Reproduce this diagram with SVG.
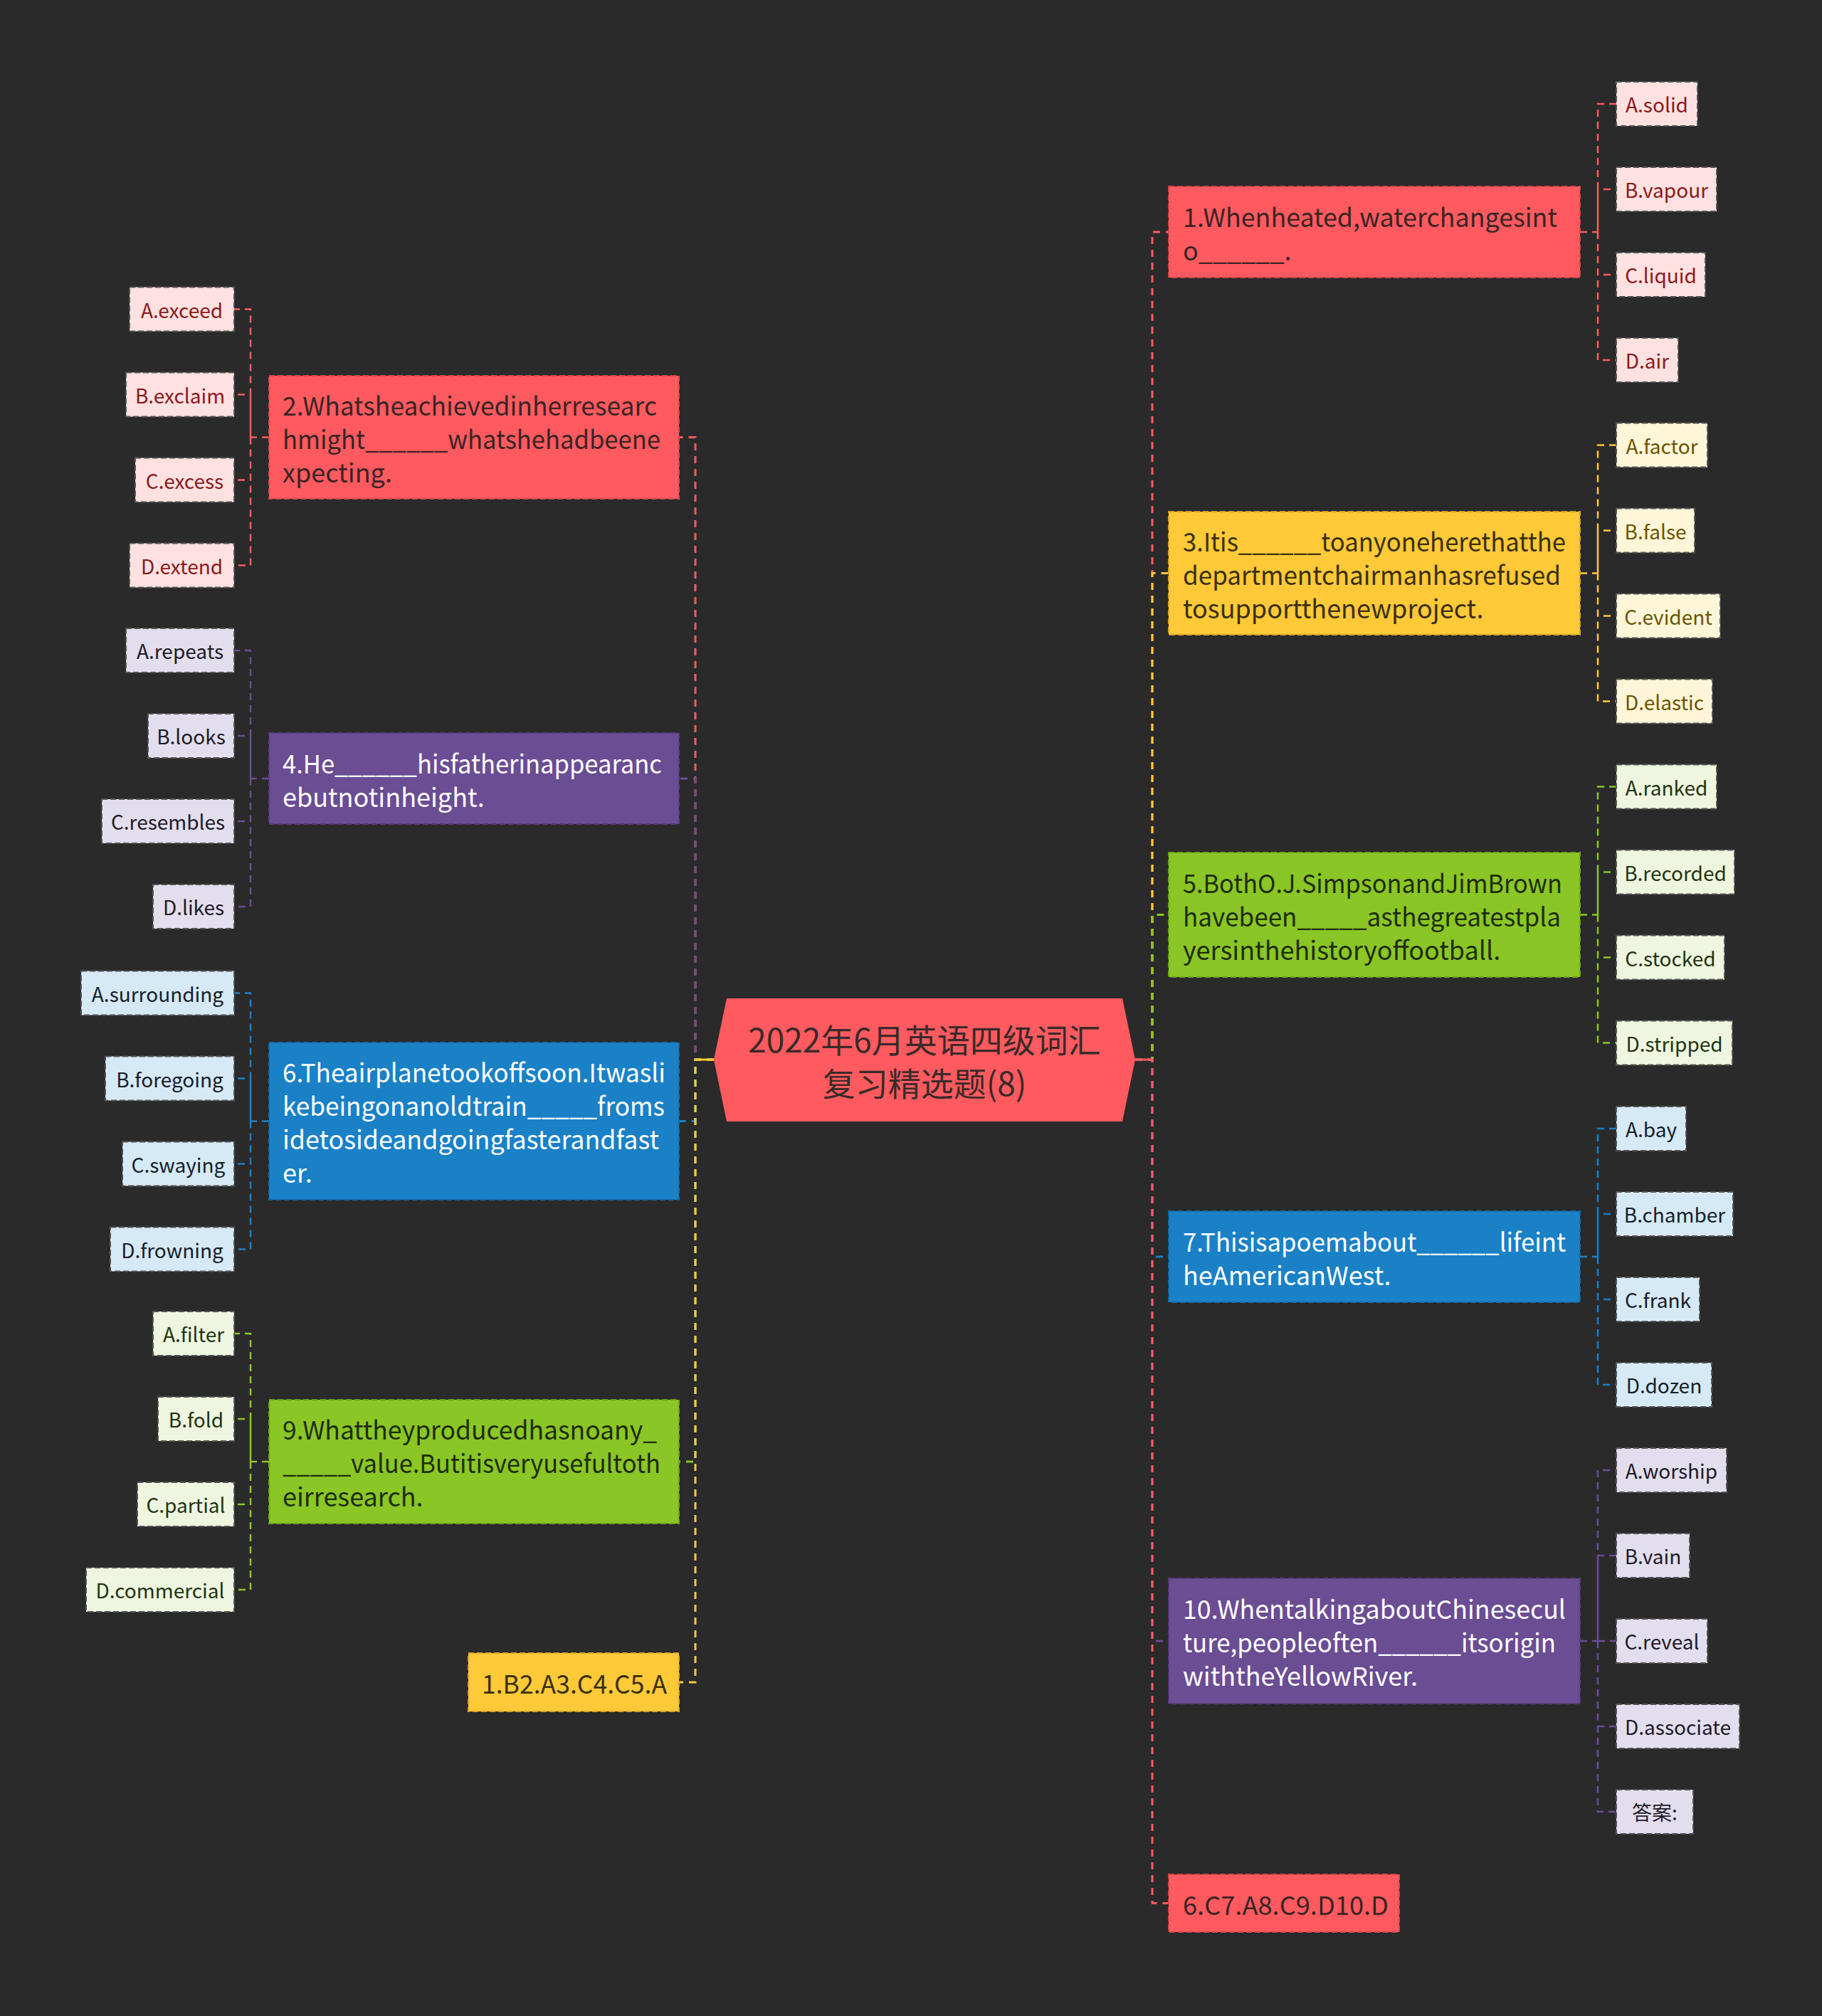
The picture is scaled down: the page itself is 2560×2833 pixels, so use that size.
<svg xmlns="http://www.w3.org/2000/svg" width="2560" height="2833" viewBox="0 0 2560 2833">
<style>
text{font-family:"Noto Sans CJK SC","Noto Sans",sans-serif;dominant-baseline:central}
.mt{font-size:36px}
.lt{font-size:28px;text-anchor:middle}
.c{fill:none;stroke-width:3;stroke-dasharray:10 8}
.lc{fill:none;stroke-width:2.5;stroke-dasharray:10 7}
.nb{stroke-width:2;stroke-dasharray:8 4}
.lb{stroke:#555;stroke-width:2;stroke-dasharray:8 4}
.red{fill:#FF5A5F;stroke:#D9464B}
.yel{fill:#FFC938;stroke:#D9A620}
.grn{fill:#8AC626;stroke:#6FA31A}
.blu{fill:#1A81C7;stroke:#146AA6}
.pur{fill:#6B4D94;stroke:#573C7C}
.lred{fill:#FFE1E1}.lyel{fill:#FFF6D9}.lgrn{fill:#EEF6E0}.lblu{fill:#D6E9F6}.lpur{fill:#E2DEEE}
.tred{fill:#8A1A1A}.tyel{fill:#6B5300}.tgrn{fill:#223310}.tblu{fill:#14202a}.tpur{fill:#1e1a26}
.sr{stroke:#FF5A5F}.sy{stroke:#FFC938}.sg{stroke:#8AC626}.sb{stroke:#1A81C7}.sp{stroke:#6B4D94}
</style>
<rect width="2560" height="2833" fill="#2A2A2A"/>
<g id="connectors">
<path class="c sr" d="M1595 1489H1619V326H1642"/>
<path class="c sy" d="M1595 1489H1619V805.5H1642"/>
<path class="c sg" d="M1595 1489H1619V1285.5H1642"/>
<path class="c sb" d="M1595 1489H1619V1766H1642"/>
<path class="c sp" d="M1595 1489H1619V2306H1642"/>
<path class="c sr" d="M1595 1489H1619V2674.5H1642"/>
<path d="M1595 1489H1619" stroke="#FF5A5F" stroke-width="3"/>
<path class="c sr" d="M1003 1489H977V614.5H954"/>
<path class="c sp" d="M1003 1489H977V1094H954"/>
<path class="c sb" d="M1003 1489H977V1575.5H954"/>
<path class="c sg" d="M1003 1489H977V2054H954"/>
<path class="c sy" d="M1003 1489H977V2364H954"/>
<path d="M1003 1489H977" stroke="#FFC938" stroke-width="3"/>
<path class="lc sr" d="M2220 326H2245V146H2271M2245 326V266H2271M2245 326V386H2271M2245 326V506H2271"/>
<path class="lc sy" d="M2220 805.5H2245V625.5H2271M2245 805.5V745.5H2271M2245 805.5V865.5H2271M2245 805.5V985.5H2271"/>
<path class="lc sg" d="M2220 1285.5H2245V1105.5H2271M2245 1285.5V1225.5H2271M2245 1285.5V1345.5H2271M2245 1285.5V1465.5H2271"/>
<path class="lc sb" d="M2220 1766H2245V1586H2271M2245 1766V1706H2271M2245 1766V1826H2271M2245 1766V1946H2271"/>
<path class="lc sp" d="M2220 2306H2245V2066H2271M2245 2306V2186H2271M2245 2306V2306H2271M2245 2306V2426H2271M2245 2306V2546H2271"/>
<path class="lc sr" d="M378 614.5H352V434.5H329M352 614.5V554.5H329M352 614.5V674.5H329M352 614.5V794.5H329"/>
<path class="lc sp" d="M378 1094H352V914H329M352 1094V1034H329M352 1094V1154H329M352 1094V1274H329"/>
<path class="lc sb" d="M378 1575.5H352V1395.5H329M352 1575.5V1515.5H329M352 1575.5V1635.5H329M352 1575.5V1755.5H329"/>
<path class="lc sg" d="M378 2054H352V1874H329M352 2054V1994H329M352 2054V2114H329M352 2054V2234H329"/>
</g>
<g id="center">
<polygon points="1021,1403 1577,1403 1595,1489 1577,1576 1021,1576 1003,1489" fill="#FF5A5F"/>
<text x="1299" y="1459" font-size="46" text-anchor="middle" fill="#3A2A2A">2022年6月英语四级词汇</text>
<text x="1299" y="1520" font-size="46" text-anchor="middle" fill="#3A2A2A">复习精选题(8)</text>
</g>
<g id="q1">
<rect class="nb red" x="1642" y="262" width="578" height="128"/>
<text class="mt" x="1662" y="302.5" fill="#3A2424" textLength="526" lengthAdjust="spacingAndGlyphs">1.Whenheated,waterchangesint</text>
<text class="mt" x="1662" y="349.5" fill="#3A2424">o______.</text>
</g>
<g id="q3">
<rect class="nb yel" x="1642" y="719" width="578" height="173"/>
<text class="mt" x="1662" y="758.5" fill="#3A3010" textLength="538" lengthAdjust="spacingAndGlyphs">3.Itis______toanyoneherethatthe</text>
<text class="mt" x="1662" y="805.5" fill="#3A3010" textLength="531" lengthAdjust="spacingAndGlyphs">departmentchairmanhasrefused</text>
<text class="mt" x="1662" y="852.5" fill="#3A3010">tosupportthenewproject.</text>
</g>
<g id="q5">
<rect class="nb grn" x="1642" y="1198" width="578" height="175"/>
<text class="mt" x="1662" y="1238.5" fill="#1F2D0A" textLength="533" lengthAdjust="spacingAndGlyphs">5.BothO.J.SimpsonandJimBrown</text>
<text class="mt" x="1662" y="1285.5" fill="#1F2D0A" textLength="531" lengthAdjust="spacingAndGlyphs">havebeen_____asthegreatestpla</text>
<text class="mt" x="1662" y="1332.5" fill="#1F2D0A">yersinthehistoryoffootball.</text>
</g>
<g id="q7">
<rect class="nb blu" x="1642" y="1702" width="578" height="128"/>
<text class="mt" x="1662" y="1742.5" fill="#FFFFFF" textLength="538" lengthAdjust="spacingAndGlyphs">7.Thisisapoemabout______lifeint</text>
<text class="mt" x="1662" y="1789.5" fill="#FFFFFF">heAmericanWest.</text>
</g>
<g id="q10">
<rect class="nb pur" x="1642" y="2218" width="578" height="176"/>
<text class="mt" x="1662" y="2259" fill="#FFFFFF" textLength="538" lengthAdjust="spacingAndGlyphs">10.WhentalkingaboutChinesecul</text>
<text class="mt" x="1662" y="2306" fill="#FFFFFF" textLength="524" lengthAdjust="spacingAndGlyphs">ture,peopleoften______itsorigin</text>
<text class="mt" x="1662" y="2353" fill="#FFFFFF">withtheYellowRiver.</text>
</g>
<g id="ans2">
<rect class="nb red" x="1642" y="2634" width="324" height="81"/>
<text class="mt" x="1662" y="2674.5" fill="#3A2424" textLength="289" lengthAdjust="spacingAndGlyphs">6.C7.A8.C9.D10.D</text>
</g>
<g id="q2">
<rect class="nb red" x="378" y="528" width="576" height="173"/>
<text class="mt" x="397" y="567.5" fill="#3A2424" textLength="526" lengthAdjust="spacingAndGlyphs">2.Whatsheachievedinherresearc</text>
<text class="mt" x="397" y="614.5" fill="#3A2424" textLength="531" lengthAdjust="spacingAndGlyphs">hmight______whatshehadbeene</text>
<text class="mt" x="397" y="661.5" fill="#3A2424">xpecting.</text>
</g>
<g id="q4">
<rect class="nb pur" x="378" y="1030" width="576" height="128"/>
<text class="mt" x="397" y="1070.5" fill="#FFFFFF" textLength="533" lengthAdjust="spacingAndGlyphs">4.He______hisfatherinappearanc</text>
<text class="mt" x="397" y="1117.5" fill="#FFFFFF">ebutnotinheight.</text>
</g>
<g id="q6">
<rect class="nb blu" x="378" y="1465" width="576" height="221"/>
<text class="mt" x="397" y="1505" fill="#FFFFFF" textLength="538" lengthAdjust="spacingAndGlyphs">6.Theairplanetookoffsoon.Itwasli</text>
<text class="mt" x="397" y="1552" fill="#FFFFFF" textLength="537" lengthAdjust="spacingAndGlyphs">kebeingonanoldtrain_____froms</text>
<text class="mt" x="397" y="1599" fill="#FFFFFF" textLength="529" lengthAdjust="spacingAndGlyphs">idetosideandgoingfasterandfast</text>
<text class="mt" x="397" y="1646" fill="#FFFFFF">er.</text>
</g>
<g id="q9">
<rect class="nb grn" x="378" y="1967" width="576" height="174"/>
<text class="mt" x="397" y="2007" fill="#1F2D0A" textLength="526" lengthAdjust="spacingAndGlyphs">9.Whattheyproducedhasnoany_</text>
<text class="mt" x="397" y="2054" fill="#1F2D0A" textLength="531" lengthAdjust="spacingAndGlyphs">_____value.Butitisveryusefultoth</text>
<text class="mt" x="397" y="2101" fill="#1F2D0A">eirresearch.</text>
</g>
<g id="ans1">
<rect class="nb yel" x="658" y="2323" width="296" height="82"/>
<text class="mt" x="677" y="2364" fill="#3A3010" textLength="260" lengthAdjust="spacingAndGlyphs">1.B2.A3.C4.C5.A</text>
</g>
<g id="q1-leaves">
<g id="q1a"><rect class="lb lred" x="2271" y="115" width="114" height="62"/><text class="lt tred" x="2328" y="146">A.solid</text></g>
<g id="q1b"><rect class="lb lred" x="2271" y="235" width="141" height="62"/><text class="lt tred" x="2341.5" y="266">B.vapour</text></g>
<g id="q1c"><rect class="lb lred" x="2271" y="355" width="125" height="62"/><text class="lt tred" x="2333.5" y="386">C.liquid</text></g>
<g id="q1d"><rect class="lb lred" x="2271" y="475" width="87" height="62"/><text class="lt tred" x="2314.5" y="506">D.air</text></g>
</g>
<g id="q3-leaves">
<g id="q3a"><rect class="lb lyel" x="2271" y="594.5" width="128" height="62"/><text class="lt tyel" x="2335" y="625.5">A.factor</text></g>
<g id="q3b"><rect class="lb lyel" x="2271" y="714.5" width="110" height="62"/><text class="lt tyel" x="2326" y="745.5">B.false</text></g>
<g id="q3c"><rect class="lb lyel" x="2271" y="834.5" width="146" height="62"/><text class="lt tyel" x="2344" y="865.5">C.evident</text></g>
<g id="q3d"><rect class="lb lyel" x="2271" y="954.5" width="135" height="62"/><text class="lt tyel" x="2338.5" y="985.5">D.elastic</text></g>
</g>
<g id="q5-leaves">
<g id="q5a"><rect class="lb lgrn" x="2271" y="1074.5" width="141" height="62"/><text class="lt tgrn" x="2341.5" y="1105.5">A.ranked</text></g>
<g id="q5b"><rect class="lb lgrn" x="2271" y="1194.5" width="166" height="62"/><text class="lt tgrn" x="2354" y="1225.5">B.recorded</text></g>
<g id="q5c"><rect class="lb lgrn" x="2271" y="1314.5" width="152" height="62"/><text class="lt tgrn" x="2347" y="1345.5">C.stocked</text></g>
<g id="q5d"><rect class="lb lgrn" x="2271" y="1434.5" width="163" height="62"/><text class="lt tgrn" x="2352.5" y="1465.5">D.stripped</text></g>
</g>
<g id="q7-leaves">
<g id="q7a"><rect class="lb lblu" x="2271" y="1555" width="98" height="62"/><text class="lt tblu" x="2320" y="1586">A.bay</text></g>
<g id="q7b"><rect class="lb lblu" x="2271" y="1675" width="164" height="62"/><text class="lt tblu" x="2353" y="1706">B.chamber</text></g>
<g id="q7c"><rect class="lb lblu" x="2271" y="1795" width="117" height="62"/><text class="lt tblu" x="2329.5" y="1826">C.frank</text></g>
<g id="q7d"><rect class="lb lblu" x="2271" y="1915" width="134" height="62"/><text class="lt tblu" x="2338" y="1946">D.dozen</text></g>
</g>
<g id="q10-leaves">
<g id="q10a"><rect class="lb lpur" x="2271" y="2035" width="155" height="62"/><text class="lt tpur" x="2348.5" y="2066">A.worship</text></g>
<g id="q10b"><rect class="lb lpur" x="2271" y="2155" width="103" height="62"/><text class="lt tpur" x="2322.5" y="2186">B.vain</text></g>
<g id="q10c"><rect class="lb lpur" x="2271" y="2275" width="128" height="62"/><text class="lt tpur" x="2335" y="2306">C.reveal</text></g>
<g id="q10d"><rect class="lb lpur" x="2271" y="2395" width="173" height="62"/><text class="lt tpur" x="2357.5" y="2426">D.associate</text></g>
<g id="q10e"><rect class="lb lpur" x="2271" y="2515" width="108" height="62"/><text class="lt tpur" x="2325" y="2546">答案:</text></g>
</g>
<g id="q2-leaves">
<g id="q2a"><rect class="lb lred" x="182" y="403.5" width="147" height="62"/><text class="lt tred" x="255.5" y="434.5">A.exceed</text></g>
<g id="q2b"><rect class="lb lred" x="177" y="523.5" width="152" height="62"/><text class="lt tred" x="253" y="554.5">B.exclaim</text></g>
<g id="q2c"><rect class="lb lred" x="190" y="643.5" width="139" height="62"/><text class="lt tred" x="259.5" y="674.5">C.excess</text></g>
<g id="q2d"><rect class="lb lred" x="182" y="763.5" width="147" height="62"/><text class="lt tred" x="255.5" y="794.5">D.extend</text></g>
</g>
<g id="q4-leaves">
<g id="q4a"><rect class="lb lpur" x="177" y="883" width="152" height="62"/><text class="lt tpur" x="253" y="914">A.repeats</text></g>
<g id="q4b"><rect class="lb lpur" x="208" y="1003" width="121" height="62"/><text class="lt tpur" x="268.5" y="1034">B.looks</text></g>
<g id="q4c"><rect class="lb lpur" x="143" y="1123" width="186" height="62"/><text class="lt tpur" x="236" y="1154">C.resembles</text></g>
<g id="q4d"><rect class="lb lpur" x="215" y="1243" width="114" height="62"/><text class="lt tpur" x="272" y="1274">D.likes</text></g>
</g>
<g id="q6-leaves">
<g id="q6a"><rect class="lb lblu" x="114" y="1364.5" width="215" height="62"/><text class="lt tblu" x="221.5" y="1395.5">A.surrounding</text></g>
<g id="q6b"><rect class="lb lblu" x="148" y="1484.5" width="181" height="62"/><text class="lt tblu" x="238.5" y="1515.5">B.foregoing</text></g>
<g id="q6c"><rect class="lb lblu" x="172" y="1604.5" width="157" height="62"/><text class="lt tblu" x="250.5" y="1635.5">C.swaying</text></g>
<g id="q6d"><rect class="lb lblu" x="155" y="1724.5" width="174" height="62"/><text class="lt tblu" x="242" y="1755.5">D.frowning</text></g>
</g>
<g id="q9-leaves">
<g id="q9a"><rect class="lb lgrn" x="215" y="1843" width="114" height="62"/><text class="lt tgrn" x="272" y="1874">A.filter</text></g>
<g id="q9b"><rect class="lb lgrn" x="222" y="1963" width="107" height="62"/><text class="lt tgrn" x="275.5" y="1994">B.fold</text></g>
<g id="q9c"><rect class="lb lgrn" x="193" y="2083" width="136" height="62"/><text class="lt tgrn" x="261" y="2114">C.partial</text></g>
<g id="q9d"><rect class="lb lgrn" x="121" y="2203" width="208" height="62"/><text class="lt tgrn" x="225" y="2234">D.commercial</text></g>
</g>
</svg>
